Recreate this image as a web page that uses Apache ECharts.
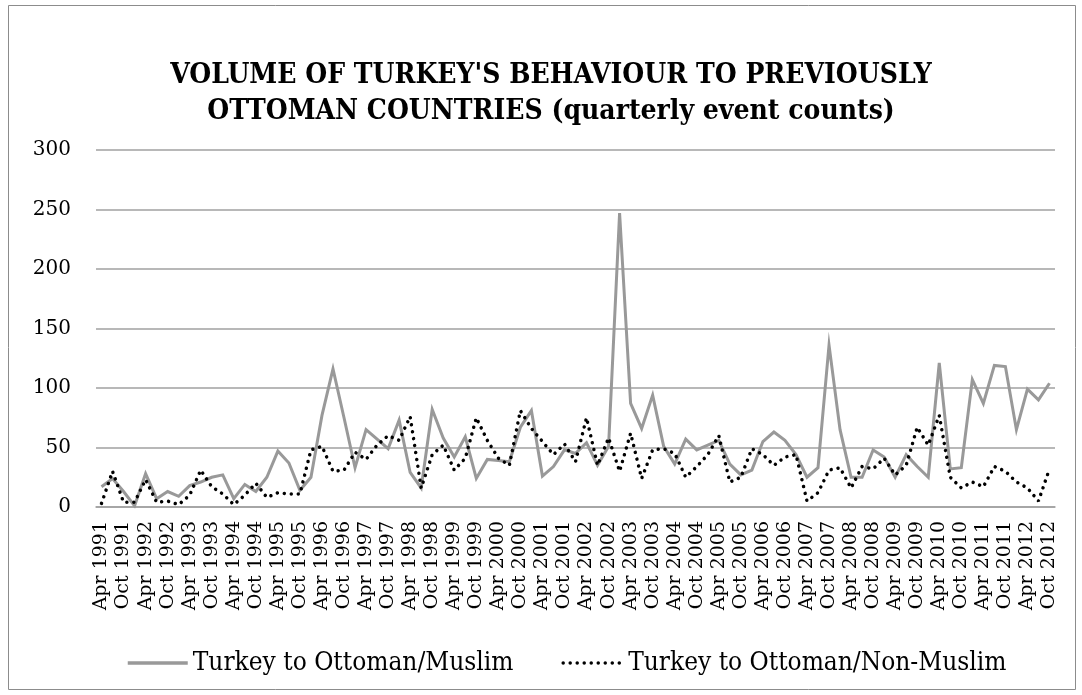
<!DOCTYPE html>
<html>
<head>
<meta charset="utf-8">
<title>Turkey behaviour volume</title>
<script src="https://cdn.jsdelivr.net/npm/echarts@6/dist/echarts.min.js"></script>
<style>
  html, body { margin: 0; padding: 0; background: #ffffff; }
  #chart { width: 1082px; height: 695px; }
</style>
</head>
<body>
<div id="chart"></div>
<script>
// Quarterly periods, Apr 1991 .. Oct 2012
const quarters = [
  "Apr 1991","Jul 1991","Oct 1991",
  "Jan 1992","Apr 1992","Jul 1992","Oct 1992",
  "Jan 1993","Apr 1993","Jul 1993","Oct 1993",
  "Jan 1994","Apr 1994","Jul 1994","Oct 1994",
  "Jan 1995","Apr 1995","Jul 1995","Oct 1995",
  "Jan 1996","Apr 1996","Jul 1996","Oct 1996",
  "Jan 1997","Apr 1997","Jul 1997","Oct 1997",
  "Jan 1998","Apr 1998","Jul 1998","Oct 1998",
  "Jan 1999","Apr 1999","Jul 1999","Oct 1999",
  "Jan 2000","Apr 2000","Jul 2000","Oct 2000",
  "Jan 2001","Apr 2001","Jul 2001","Oct 2001",
  "Jan 2002","Apr 2002","Jul 2002","Oct 2002",
  "Jan 2003","Apr 2003","Jul 2003","Oct 2003",
  "Jan 2004","Apr 2004","Jul 2004","Oct 2004",
  "Jan 2005","Apr 2005","Jul 2005","Oct 2005",
  "Jan 2006","Apr 2006","Jul 2006","Oct 2006",
  "Jan 2007","Apr 2007","Jul 2007","Oct 2007",
  "Jan 2008","Apr 2008","Jul 2008","Oct 2008",
  "Jan 2009","Apr 2009","Jul 2009","Oct 2009",
  "Jan 2010","Apr 2010","Jul 2010","Oct 2010",
  "Jan 2011","Apr 2011","Jul 2011","Oct 2011",
  "Jan 2012","Apr 2012","Jul 2012","Oct 2012"
];

// Event counts: Turkey towards formerly Ottoman, Muslim-majority countries
const muslimCounts = [
  17, 24, 13,
  1, 28, 7, 13,
  9, 18, 21, 25,
  27, 7, 19, 13,
  25, 47, 37, 14,
  25, 77, 116, 75,
  33, 65, 57, 49,
  73, 29, 16, 82,
  58, 42, 59, 24,
  40, 39, 38, 67,
  81, 26, 34, 48,
  45, 54, 35, 51,
  247, 87, 66, 94,
  51, 36, 57, 48,
  52, 56, 36, 27,
  31, 55, 63, 56,
  44, 25, 33, 136,
  65, 25, 25, 48,
  42, 25, 44, 34,
  25, 121, 32, 33,
  107, 87, 119, 118,
  65, 99, 90, 104
];

// Event counts: Turkey towards formerly Ottoman, non-Muslim countries
const nonMuslimCounts = [
  3, 30, 4,
  4, 23, 4, 5,
  2, 10, 31, 17,
  11, 2, 10, 20,
  8, 12, 11, 11,
  48, 51, 30, 31,
  46, 40, 52, 60,
  56, 76, 16, 44,
  52, 31, 41, 75,
  56, 41, 35, 81,
  66, 55, 44, 53,
  38, 75, 35, 58,
  30, 62, 24, 48,
  49, 45, 25, 34,
  44, 60, 21, 25,
  49, 44, 35, 42,
  44, 5, 12, 31,
  33, 16, 34, 32,
  41, 27, 35, 67,
  52, 77, 25, 16,
  21, 17, 34, 30,
  21, 16, 5, 32
];

const seriesNames = ["Turkey to Ottoman/Muslim", "Turkey to Ottoman/Non-Muslim"];
const yTicks = { min: 0, max: 300, step: 50 };

const chart = echarts.init(document.getElementById('chart'), null, { renderer: 'canvas' });

const serif = '"DejaVu Serif", "Liberation Serif", serif';
const serifNarrow = '"DejaVu Serif Condensed", "DejaVu Serif", serif';

chart.setOption({
  animation: false,
  backgroundColor: '#ffffff',
  graphic: [{
    type: 'rect',
    shape: { x: 8.5, y: 5.5, width: 1067, height: 684 },
    style: { fill: 'none', stroke: '#8c8c8c', lineWidth: 1 },
    silent: true,
    z: -1
  }],
  title: {
    text: "VOLUME OF TURKEY'S BEHAVIOUR TO PREVIOUSLY\nOTTOMAN COUNTRIES (quarterly event counts)",
    left: 546,
    top: 53,
    textAlign: 'center',
    textStyle: {
      fontFamily: serifNarrow,
      fontWeight: 'bold',
      fontSize: 28,
      lineHeight: 36,
      color: '#000000'
    }
  },
  legend: {
    left: 121,
    top: 645,
    itemWidth: 60,
    itemHeight: 12,
    itemGap: 48,
    itemStyle: { opacity: 0 },
    lineStyle: { width: 3.5 },
    textStyle: { fontFamily: serifNarrow, fontSize: 26, color: '#000000' },
    data: seriesNames
  },
  grid: { left: 96, top: 150, width: 959, height: 357, containLabel: false },
  xAxis: {
    type: 'category',
    data: quarters,
    boundaryGap: true,
    axisLine: { lineStyle: { color: '#a0a0a0', width: 1.5 } },
    axisTick: { show: false },
    axisLabel: {
      interval: 1,
      rotate: 90,
      margin: 14,
      fontFamily: serif,
      fontSize: 19,
      color: '#000000'
    }
  },
  yAxis: {
    type: 'value',
    min: yTicks.min,
    max: yTicks.max,
    interval: yTicks.step,
    axisLine: { show: false },
    axisTick: { show: false },
    axisLabel: { margin: 25, fontFamily: serif, fontSize: 20, color: '#000000' },
    splitLine: { lineStyle: { color: '#a0a0a0', width: 1.5 } }
  },
  series: [
    {
      name: seriesNames[0],
      type: 'line',
      data: muslimCounts,
      symbol: 'none',
      lineStyle: { color: '#999999', width: 3, join: 'miter' },
      itemStyle: { color: '#999999' }
    },
    {
      name: seriesNames[1],
      type: 'line',
      data: nonMuslimCounts,
      symbol: 'none',
      lineStyle: { color: '#000000', width: 3.5, type: [0.01, 7], cap: 'round' },
      itemStyle: { color: '#000000' }
    }
  ]
});
</script>
</body>
</html>
